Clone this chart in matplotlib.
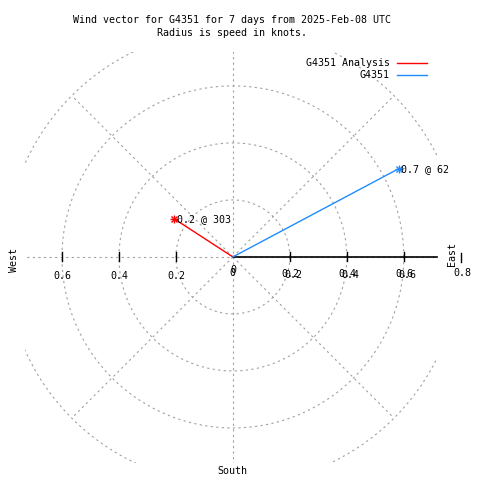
import matplotlib
matplotlib.use("Agg")
import matplotlib.pyplot as plt
import numpy as np

# wind vectors: speed (knots) and direction (degrees from north)
names = ["G4351 Analysis", "G4351"]
speeds = [0.245, 0.66]
directions = [303, 62]
colors = ["#ff0000", "#1e8cff"]

rings = [0.2, 0.4, 0.6, 0.8]
tick_vals = [0.2, 0.4, 0.6]

plt.rcParams['font.family'] = ['DejaVu Sans Mono']
fs = 7.2
grid_kw = dict(color='#a0a0a0', lw=0.8, dashes=(2, 3))

fig = plt.figure(figsize=(4.8, 4.8), dpi=100)
ax = fig.add_axes([0.052, 0.0354, 0.858, 0.8563])
ax.set_xlim(-0.73, 0.716)
ax.set_ylim(-0.723, 0.719)
ax.axis('off')

# polar grid
t = np.linspace(0, 2 * np.pi, 400)
for r in rings:
    ax.plot(r * np.cos(t), r * np.sin(t), **grid_kw)
for a in [45, 135, 225, 315]:
    ar = np.radians(a)
    ax.plot([0, 0.8 * np.cos(ar)], [0, 0.8 * np.sin(ar)], **grid_kw)
ax.plot([-1, 1], [0, 0], **grid_kw)
ax.plot([0, 0], [-1, 1], **grid_kw)

# x axis on the right, with ticks
ax.plot([0, 0.716], [0, 0], color='black', lw=1.2, clip_on=False)
for v in tick_vals:
    for s in (1, -1):
        ax.plot([s * v, s * v], [-0.016, 0.016], color='black', lw=1.0)
ax.plot([0.8, 0.8], [-0.018, 0.014], color='black', lw=1.0, clip_on=False)

# tick labels (doubled on the right as in the original)
ax.text(0, -0.056, "0", ha='center', va='center', fontsize=fs)
ax.text(0.002, -0.046, "0", ha='center', va='center', fontsize=fs)
for v in tick_vals:
    ax.text(-v, -0.067, "%g" % v, ha='center', va='center', fontsize=fs)
    ax.text(v + 0.003, -0.061, "%g" % v, ha='center', va='center', fontsize=fs)
    ax.text(v + 0.014, -0.065, "%g" % v, ha='center', va='center', fontsize=fs)
ax.text(0.807, -0.056, "0.8", ha='center', va='center', fontsize=fs, clip_on=False)

# compass labels
ax.text(-0.768, -0.01, "West", rotation=90, ha='center', va='center', fontsize=fs, clip_on=False)
ax.text(0.768, 0.012, "East", rotation=90, ha='center', va='center', fontsize=fs, clip_on=False)
ax.text(0, -0.75, "South", ha='center', va='center', fontsize=fs, clip_on=False)

# wind vectors
for name, s, d, c in zip(names, speeds, directions, colors):
    x = s * np.sin(np.radians(d))
    y = s * np.cos(np.radians(d))
    ax.plot([0, x], [0, y], color=c, lw=1.0, label=name)
    ax.plot([x], [y], marker='+', color=c, ms=6, mew=1.0)
    ax.plot([x], [y], marker='x', color=c, ms=4.5, mew=1.0)
    ax.text(x + 0.008, y, "%.1f @ %d" % (s, d), ha='left', va='center', fontsize=fs)

# legend drawn like gnuplot's key
ly = [0.681, 0.639]
for name, c, yy in zip(names, colors, ly):
    ax.text(0.55, yy, name, ha='right', va='center', fontsize=fs, clip_on=False)
    ax.plot([0.578, 0.68], [yy, yy], color=c, lw=1.0, clip_on=False)

fig.text(0.483, 0.958, "Wind vector for G4351 for 7 days from 2025-Feb-08 UTC",
         ha='center', va='center', fontsize=fs)
fig.text(0.483, 0.931, "Radius is speed in knots.", ha='center', va='center', fontsize=fs)

fig.savefig("out.png", dpi=100)
